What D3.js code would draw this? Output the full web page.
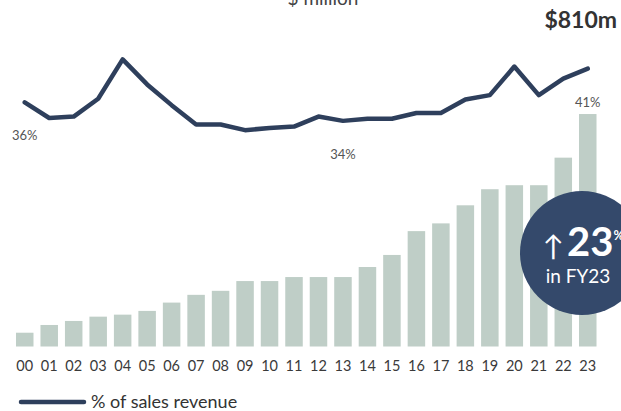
<!DOCTYPE html>
<html>
<head>
<meta charset="utf-8">
<script src="https://cdn.jsdelivr.net/npm/d3@7"></script>
<style>
  body { margin: 0; background: #fff; }
  svg { display: block; font-family: Lato, "Open Sans", sans-serif; }
</style>
</head>
<body>
<script>
// fiscal years (FY00 - FY23)
const years = ["00", "01", "02", "03", "04", "05", "06", "07", "08", "09", "10", "11",
  "12", "13", "14", "15", "16", "17", "18", "19", "20", "21", "22", "23"];

// $ million
const revenue = [48, 75, 89, 104, 111, 124, 153, 180, 194, 228, 228, 242,
  242, 242, 277, 319, 402, 429, 492, 548, 562, 562, 658, 810];

// % of sales revenue
const pctOfSales = [36.2, 34.0, 34.2, 36.7, 42.2, 38.7, 35.8, 33.1, 33.1, 32.3, 32.6, 32.8,
  34.2, 33.6, 33.9, 33.9, 34.7, 34.7, 36.6, 37.2, 41.2, 37.2, 39.5, 40.9];

const labelledYears = ["00", "13", "23"];
const lastRevenueLabel = "$810m";
const growthLabel = "23";
const growthYear = "in FY23";

const app = {

  init: () => {
    app.svg = d3.select("body").append("svg")
      .attr("width", 621)
      .attr("height", 411);

    app.x = d3.scaleBand()
      .domain(years)
      .range([12.5, 600])
      .paddingInner(0.285)
      .paddingOuter(0.1425);

    app.bars();
    app.line();
    app.bubble();
    app.texts();
  },

  bars: () => {
    let y = d3.scaleLinear().domain([0, 900]).range([346.5, 88.2]);

    app.svg.append("g").selectAll("rect")
      .data(revenue)
      .enter()
      .append("rect")
      .attr("x", (d, i) => app.x(years[i]))
      .attr("y", (d) => y(d))
      .attr("width", app.x.bandwidth())
      .attr("height", (d) => y(0) - y(d))
      .style("fill", "#bfcec7");

    // year labels, no axis line
    let axis = app.svg.append("g")
      .attr("transform", "translate(0,361)")
      .call(d3.axisBottom(app.x).tickSize(0).tickPadding(0));
    axis.select(".domain").remove();
    axis.selectAll("text")
      .attr("dy", "0.71em")
      .style("font-family", "Lato, sans-serif")
      .style("font-size", "14.5px")
      .style("fill", "#3a3a3a");
  },

  line: () => {
    let y = d3.scaleLinear().domain([30, 45]).range([146.6, 39.4]);
    let cx = (i) => app.x(years[i]) + app.x.bandwidth() / 2;

    let path = d3.line()
      .x((d, i) => cx(i))
      .y((d) => y(d));

    app.svg.append("path")
      .datum(pctOfSales)
      .attr("d", path)
      .style("fill", "none")
      .style("stroke", "#2e3f5c")
      .style("stroke-width", 4.5)
      .style("stroke-linejoin", "round")
      .style("stroke-linecap", "round");

    app.svg.append("g").selectAll("text")
      .data(labelledYears)
      .enter()
      .append("text")
      .attr("x", (d) => cx(years.indexOf(d)))
      .attr("y", (d) => y(pctOfSales[years.indexOf(d)]) + 38)
      .attr("text-anchor", "middle")
      .style("font-size", "13px")
      .style("fill", "#555")
      .text((d) => d3.format(".0f")(pctOfSales[years.indexOf(d)]) + "%");

    // legend
    app.svg.append("line")
      .attr("x1", 21).attr("x2", 84)
      .attr("y1", 402).attr("y2", 402)
      .style("stroke", "#2e3f5c")
      .style("stroke-width", 4.5)
      .style("stroke-linecap", "round");
    app.svg.append("text")
      .attr("x", 91)
      .attr("y", 408)
      .style("font-size", "18px")
      .style("fill", "#333")
      .text("% of sales revenue");
  },

  bubble: () => {
    let g = app.svg.append("g").attr("transform", "translate(582,253)");
    g.append("circle")
      .attr("r", 62)
      .style("fill", "#34496b");
    let big = g.append("text")
      .attr("x", -39)
      .attr("y", 3)
      .style("fill", "#fff");
    big.append("tspan")
      .style("font-size", "28px")
      .text("\u2191");
    big.append("tspan")
      .attr("dx", 3)
      .style("font-size", "40px")
      .style("font-weight", "bold")
      .text(growthLabel);
    big.append("tspan")
      .attr("dy", -16)
      .style("font-size", "13px")
      .style("font-weight", "bold")
      .text("%");
    g.append("text")
      .attr("x", -4)
      .attr("y", 30)
      .attr("text-anchor", "middle")
      .style("font-size", "19px")
      .style("fill", "#fff")
      .text(growthYear);
  },

  texts: () => {
    app.svg.append("text")
      .attr("x", 323)
      .attr("y", 5)
      .attr("text-anchor", "middle")
      .style("font-size", "19px")
      .style("fill", "#444")
      .text("$ million");

    app.svg.append("text")
      .attr("x", 617)
      .attr("y", 28)
      .attr("text-anchor", "end")
      .style("font-size", "23px")
      .style("font-weight", "bold")
      .style("fill", "#333")
      .text(lastRevenueLabel);
  }

}

app.init();
</script>
</body>
</html>
